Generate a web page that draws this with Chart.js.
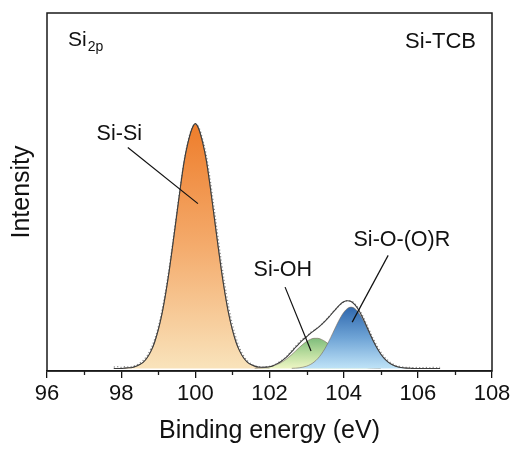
<!DOCTYPE html>
<html>
<head>
<meta charset="utf-8">
<script src="https://cdn.jsdelivr.net/npm/chart.js@4.4.1/dist/chart.umd.min.js"></script>
<style>
  html, body { margin: 0; padding: 0; background: #fff; }
  #xps { display: block; }
</style>
</head>
<body>
<canvas id="xps" width="516" height="450"></canvas>
<script>
// Si 2p spectrum, sampled every 0.1 eV; each series lists its start energy
var energyStep = 0.1;

var siSiStart = 98.0;
var siSi = [0.0, 0.1, 0.2, 0.3, 0.6, 1.1, 1.8, 3.0, 4.8, 7.3,
    10.8, 15.3, 21.0, 27.7, 35.3, 43.2, 51.0, 58.1, 63.2, 66.9,
    68.6,
    66.9, 63.2, 58.1, 51.0, 43.2, 35.3, 27.7, 21.0, 15.3, 10.8,
    7.3, 4.8, 3.0, 1.8, 1.1, 0.6, 0.3, 0.2, 0.1, 0.0];

var siOHStart = 101.6;
var siOH = [0.06, 0.10, 0.17, 0.29, 0.47, 0.74, 1.11, 1.60, 2.23, 3.00,
    3.89, 4.86, 5.85, 6.78, 7.57, 8.15, 8.46, 8.46, 8.15, 7.57,
    6.78, 5.85, 4.86, 3.89, 3.00, 2.23, 1.60, 1.11, 0.74, 0.47,
    0.29, 0.17, 0.10, 0.06, 0.03];

var siORStart = 102.6;
var siOR = [0.05, 0.10, 0.20, 0.37, 0.66, 1.11, 1.79, 2.75, 4.04, 5.67,
    7.61, 9.77, 11.97, 14.03, 15.71, 16.81, 17.20, 16.81, 15.71, 14.03,
    11.97, 9.77, 7.61, 5.67, 4.04, 2.75, 1.79, 1.11, 0.66, 0.37,
    0.20, 0.10, 0.05];

var envelopeStart = 97.8;
var envelope = [0, 0, 0, 0.1, 0.2, 0.3, 0.6, 1.1, 1.8, 3.0,
    4.8, 7.3, 10.8, 15.3, 21.0, 27.7, 35.3, 43.2, 51.0, 58.1,
    63.2, 66.9, 68.6, 66.9, 63.2, 58.1, 51.0, 43.2, 35.3, 27.7,
    21.0, 15.3, 10.8, 7.3, 4.8, 3.0, 1.8, 1.1, 0.66, 0.40,
    0.37, 0.39, 0.5, 0.8, 1.3, 1.9, 2.7, 3.6, 4.7, 5.9,
    7.0, 8.0, 8.9, 9.8, 10.6, 11.4, 12.3, 13.3, 14.4, 15.6,
    16.8, 17.9, 18.7, 19.0, 18.8, 17.9, 16.45, 14.5, 12.26, 9.94,
    7.71, 5.73, 4.07, 2.75, 1.79, 1.11, 0.66, 0.37, 0.20, 0.10,
    0.05, 0, 0, 0, 0, 0, 0, 0, 0];

var rawStart = 97.8;
var raw = [0.4, 0.5, 0.3, 0.5, 0.4, 0.6, 0.9, 1.5, 2.3, 3.6,
    5.5, 8.1, 11.6, 16.2, 21.9, 28.5, 36.0, 43.8, 51.4, 58.3,
    63.6, 67.1, 68.5, 67.4, 64.1, 59.5, 52.9, 45.4, 37.6, 30.0,
    23.2, 17.2, 12.3, 8.5, 5.6, 3.6, 2.2, 1.3, 0.8, 0.5,
    0.4, 0.5, 0.6, 0.9, 1.4, 2.1, 2.8, 3.8, 5.1, 6.2,
    7.4, 8.3, 9.0, 10.0, 10.7, 11.5, 12.3, 13.4, 14.5, 15.7,
    16.8, 17.8, 18.6, 19.0, 18.9, 18.2, 16.8, 15.0, 12.8, 10.5,
    8.3, 6.3, 4.6, 3.2, 2.2, 1.4, 0.9, 0.6, 0.4, 0.3,
    0.3, 0.2, 0.3, 0.2, 0.3, 0.2, 0.3, 0.2, 0.3];

// peak labels: text, label position, end of the leader line (energy, intensity)
var peakLabels = ['Si-Si', 'Si-OH', 'Si-O-(O)R'];
var labelAt = [[97.95, 65.6], [102.36, 27.5], [105.57, 36.0]];
var leaderFrom = [[98.18, 61.9], [102.42, 22.8], [105.20, 31.7]];
var leaderTo = [[100.07, 46.2], [103.12, 4.9], [104.23, 13.0]];

var xTicksMajor = [96, 98, 100, 102, 104, 106, 108];
var xTicksMinor = [97, 99, 101, 103, 105, 107];

var FONT = '"Liberation Sans", Arial, sans-serif';
Chart.defaults.font.family = FONT;
Chart.defaults.color = '#111';

function toPoints(start, values) {
    return values.map(function (v, i) {
        return { x: Math.round((start + i * energyStep) * 10) / 10, y: v };
    });
}

// vertical gradient from the top of a peak down to the baseline
function peakFill(colors) {
    return function (context) {
        var chart = context.chart;
        if (!chart.chartArea) return colors[colors.length - 1];
        var yScale = chart.scales.y;
        var pts = chart.data.datasets[context.datasetIndex].data;
        var top = Math.max.apply(null, pts.map(function (p) { return p.y; }));
        var g = chart.ctx.createLinearGradient(0, yScale.getPixelForValue(top), 0, yScale.getPixelForValue(0));
        colors.forEach(function (c, i) { g.addColorStop(i / (colors.length - 1), c); });
        return g;
    };
}

function peakDataset(label, start, values, colors, order) {
    return {
        label: label,
        data: toPoints(start, values),
        order: order,
        fill: 'origin',
        backgroundColor: peakFill(colors),
        borderColor: 'rgba(120,105,90,0.75)',
        borderWidth: 0.8,
        pointRadius: 0,
        cubicInterpolationMode: 'monotone'
    };
}

var datasets = [
    {
        label: 'Envelope',
        data: toPoints(envelopeStart, envelope),
        order: 1,
        borderColor: '#3c3c3c',
        borderWidth: 1.1,
        pointRadius: 0,
        fill: false,
        cubicInterpolationMode: 'monotone'
    },
    {
        label: 'Raw',
        data: toPoints(rawStart, raw),
        order: 2,
        borderColor: '#8c8c8c',
        borderWidth: 1.3,
        borderDash: [1.2, 2.2],
        pointRadius: 0,
        fill: false,
        cubicInterpolationMode: 'monotone'
    },
    peakDataset('Si-O-(O)R', siORStart, siOR, ['#2f68ae', '#6fa4d6', '#bfe3f7'], 3),
    peakDataset('Si-OH', siOHStart, siOH, ['#7fbd7c', '#b9dc9e', '#eef6c4'], 4),
    peakDataset('Si-Si', siSiStart, siSi, ['#ee7d2b', '#f4ab6c', '#f9e3bb'], 5)
];

peakLabels.forEach(function (name, i) {
    datasets.push({
        label: name + ' leader',
        data: [{ x: leaderFrom[i][0], y: leaderFrom[i][1] }, { x: leaderTo[i][0], y: leaderTo[i][1] }],
        order: 0,
        borderColor: '#111',
        borderWidth: 1.2,
        pointRadius: 0,
        fill: false
    });
});

// frame, minor ticks and text annotations
var decorations = {
    id: 'decorations',
    afterDraw: function (chart) {
        var ctx = chart.ctx;
        var a = chart.chartArea;
        var xs = chart.scales.x;
        var ys = chart.scales.y;
        ctx.save();

        ctx.strokeStyle = '#1a1a1a';
        ctx.lineWidth = 1.5;
        ctx.strokeRect(a.left, a.top, a.right - a.left, a.bottom - a.top);

        ctx.lineWidth = 1.3;
        xTicksMinor.forEach(function (v) {
            var px = Math.round(xs.getPixelForValue(v)) + 0.5;
            ctx.beginPath();
            ctx.moveTo(px, a.bottom);
            ctx.lineTo(px, a.bottom + 4);
            ctx.stroke();
        });

        ctx.fillStyle = '#111';
        ctx.textBaseline = 'middle';
        ctx.textAlign = 'center';
        ctx.font = '21.5px ' + FONT;
        peakLabels.forEach(function (name, i) {
            ctx.fillText(name, xs.getPixelForValue(labelAt[i][0]), ys.getPixelForValue(labelAt[i][1]));
        });

        // element tag, top left
        ctx.textAlign = 'left';
        ctx.font = '21px ' + FONT;
        ctx.fillText('Si', a.left + 21, a.top + 27);
        var w = ctx.measureText('Si').width;
        ctx.font = '14px ' + FONT;
        ctx.fillText('2p', a.left + 22 + w, a.top + 34);

        // sample name, top right
        ctx.textAlign = 'right';
        ctx.font = '22px ' + FONT;
        ctx.fillText('Si-TCB', a.right - 16, a.top + 29);
        ctx.restore();
    }
};

new Chart(document.getElementById('xps'), {
    type: 'line',
    data: { datasets: datasets },
    options: {
        responsive: false,
        animation: false,
        devicePixelRatio: 1,
        layout: { padding: { top: 13, right: 24, left: 0, bottom: 0 } },
        plugins: {
            legend: { display: false },
            tooltip: { enabled: false }
        },
        scales: {
            x: {
                type: 'linear',
                min: 96,
                max: 108,
                afterBuildTicks: function (scale) {
                    scale.ticks = xTicksMajor.map(function (v) { return { value: v }; });
                },
                ticks: { font: { size: 22 }, color: '#111', padding: 3, maxRotation: 0, autoSkip: false },
                grid: { drawOnChartArea: false, drawTicks: true, tickLength: 7, color: '#111', lineWidth: 1.3 },
                border: { display: true, color: '#1a1a1a', width: 1.5 },
                title: {
                    display: true,
                    text: 'Binding energy (eV)',
                    font: { size: 25 },
                    color: '#111',
                    padding: { top: 0, bottom: 4 }
                },
                afterFit: function (scale) { scale.height = 79; }
            },
            y: {
                min: -0.7,
                max: 99.6,
                ticks: { display: false },
                grid: { display: false },
                border: { display: false },
                title: {
                    display: true,
                    text: 'Intensity',
                    font: { size: 25 },
                    color: '#111',
                    padding: { top: 7, bottom: 0 }
                },
                afterFit: function (scale) { scale.width = 47; }
            }
        }
    },
    plugins: [decorations]
});
</script>
</body>
</html>
